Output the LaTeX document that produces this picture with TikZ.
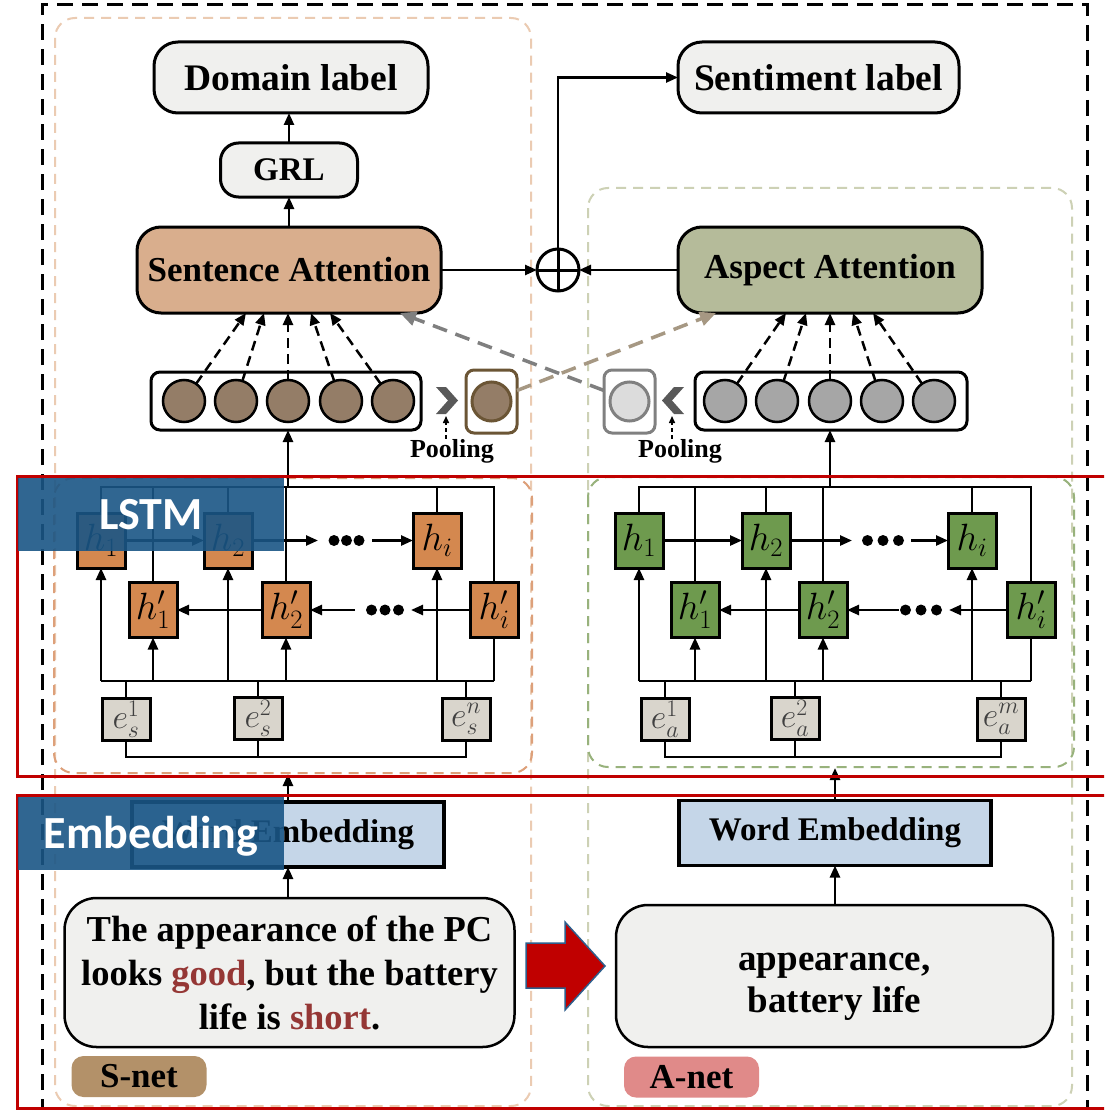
\RequirePackage{fix-cm}
\documentclass[tikz,border=0pt]{standalone}
\usepackage{fontspec}
\setmainfont{Liberation Serif}
\newfontfamily\calib{Carlito}
\usetikzlibrary{arrows.meta,calc}
\definecolor{boxgray}{HTML}{F0F0EE}
\definecolor{satan}{HTML}{D9AE8D}
\definecolor{aaolive}{HTML}{B5BB9A}
\definecolor{horange}{HTML}{D4884F}
\definecolor{hgreen}{HTML}{6E9A4E}
\definecolor{egray}{HTML}{D9D5CC}
\definecolor{wemb}{HTML}{C5D6E8}
\definecolor{cbrown}{HTML}{947D67}
\definecolor{bbrown}{HTML}{6B5535}
\definecolor{cgray}{HTML}{A6A6A6}
\definecolor{pgray}{HTML}{DCDCDC}
\definecolor{bgray}{HTML}{808080}
\definecolor{chev}{HTML}{595959}
\definecolor{redc}{HTML}{C00000}
\definecolor{lblue}{HTML}{1A5686}
\definecolor{snetc}{HTML}{B39169}
\definecolor{anetc}{HTML}{E08A89}
\definecolor{wordred}{HTML}{953735}
\definecolor{odash}{HTML}{EBCBB2}
\definecolor{odashb}{HTML}{DDA07A}
\definecolor{gdash}{HTML}{CDD1B5}
\definecolor{gdashb}{HTML}{98B27C}
\definecolor{grayarr}{HTML}{7F7F7F}
\definecolor{brownarr}{HTML}{A69883}
\definecolor{arrowblue}{HTML}{2E5E8C}
\begin{document}
\begin{tikzpicture}[x=1pt,y=-1pt,
  every node/.style={inner sep=0pt,outer sep=0pt},
  ln/.style={line width=2.5pt},
  arr/.style={ln,-{Triangle[length=12pt,width=10pt]}},
  fan/.style={line width=2.5pt,dash pattern=on 10pt off 6pt,-{Triangle[length=12pt,width=10pt]}},
  bigdash/.style={line width=3.5pt,dash pattern=on 15pt off 9pt,-{Triangle[length=16pt,width=14pt]}},
  tb/.style={font=\fontsize{35}{44}\selectfont\bfseries,align=center},
  tbl/.style={font=\fontsize{37.5}{44}\selectfont\bfseries},
  rbox/.style={draw,line width=3pt,rounded corners=24pt,fill=boxgray,tb},
  hb/.style={draw,line width=3pt,minimum width=48pt,minimum height=55pt,font=\fontsize{38}{38}\selectfont},
  eb/.style={draw,line width=3pt,fill=egray,minimum width=48pt,minimum height=42pt,font=\fontsize{34}{34}\selectfont,text=black!75},
  cir/.style={circle,draw,line width=2.5pt,minimum size=42pt},
  rowbox/.style={draw,line width=3pt,rounded corners=9pt},
  psq/.style={draw,line width=3pt,rounded corners=8pt,minimum width=51pt,minimum height=63pt},
  obox/.style={line width=2pt,dash pattern=on 10pt off 7pt,rounded corners=20pt},
  redbox/.style={draw=redc,line width=3pt},
  lab/.style={fill=lblue,fill opacity=0.9,text opacity=1,text=white,minimum width=266pt,minimum height=73pt,anchor=north west,font=\fontsize{46}{46}\calib\bfseries,text height=29.6pt,text depth=0pt},
  tag/.style={rounded corners=12pt,minimum width=135pt,minimum height=41pt,font=\fontsize{35}{35}\selectfont\bfseries},
  wb/.style={draw,line width=3.5pt,fill=wemb,minimum width=312pt,minimum height=65pt,font=\fontsize{33}{33}\selectfont\bfseries},
  pool/.style={font=\fontsize{26}{26}\selectfont\bfseries},
  parr/.style={line width=1.5pt,dash pattern=on 4pt off 3pt,-{Triangle[length=7pt,width=6pt]}},
]
\clip (0,0) rectangle (1104,1110);
\fill[white] (0,0) rectangle (1104,1110);
% dashed frames
\draw[line width=3pt,dash pattern=on 16pt off 9pt] (42,1140) -- (42,5) -- (1087,5) -- (1087,1140);
\draw[obox,draw=odash] (55,18) rectangle (531,1106);
\draw[obox,draw=gdash] (588,188) rectangle (1072,1106);
\draw[obox,draw=odashb] (54,478) rectangle (532,773);
\draw[obox,draw=gdashb] (588,477) rectangle (1074,767);

% top part
\node[rbox,tbl,minimum width=274pt,minimum height=71pt] (dl) at (291,77.5) {Domain label};
\node[rbox,font=\fontsize{33}{33}\selectfont\bfseries,rounded corners=18pt,minimum width=137pt,minimum height=54pt] (grl) at (289,170) {GRL};
\node[rbox,fill=satan,minimum width=304pt,minimum height=86pt] (sa) at (289,270) {Sentence Attention};
\node[rbox,tbl,minimum width=281pt,minimum height=71pt] (sl) at (818.5,77.5) {Sentiment label};
\node[rbox,fill=aaolive,minimum width=304pt,minimum height=86pt] (aa) at (830,270) {Aspect Attention};
\node[circle,draw,line width=3pt,minimum size=42pt,fill=white] (plus) at (558,270) {};
\draw[line width=3pt] (plus.north) -- (plus.south) (plus.west) -- (plus.east);
\draw[arr] (sa.north) -- (grl.south);
\draw[arr] (grl.north) -- (grl.north |- dl.south);
\draw[arr] (sa.east) -- (plus.west);
\draw[arr] (aa.west) -- (plus.east);
\draw[arr] (plus.north) |- (sl.west);

% circle rows
\node[rowbox,minimum width=270pt,minimum height=58pt] (rowL) at (286,401) {};
\foreach \i/\x in {1/184,2/236,3/288,4/341,5/393} \node[cir,fill=cbrown] (cl\i) at (\x,401) {};
\node[rowbox,minimum width=272pt,minimum height=58pt] (rowR) at (831,401) {};
\foreach \i/\x in {1/725,2/777,3/830,4/882,5/934} \node[cir,fill=cgray] (cr\i) at (\x,401) {};
\node[psq,draw=bbrown] (bsq) at (491.5,401.5) {};
\node[cir,draw=bbrown,fill=cbrown,minimum size=39pt,line width=3pt] (bc) at (bsq) {};
\node[psq,draw=bgray] (gsq) at (629.5,401.5) {};
\node[cir,draw=bgray,fill=pgray,minimum size=39pt,line width=3pt] (gc) at (gsq) {};
\foreach \i/\d in {1/-43,2/-25,3/-1,4/22,5/41} \draw[fan] (cl\i) -- ([xshift=\d pt]sa.south);
\foreach \i/\d in {1/-44,2/-24,3/0,4/23,5/43} \draw[fan] (cr\i) -- ([xshift=\d pt]aa.south);

% pooling
\fill[chev] (436,387) -- (446,387) -- (458,400.5) -- (446,414) -- (436,414) -- (448,400.5) -- cycle;
\fill[chev] (684,387) -- (674,387) -- (662,400.5) -- (674,414) -- (684,414) -- (672,400.5) -- cycle;
\coordinate (chL) at (446,416);
\coordinate (chR) at (672,416);
\node[pool,anchor=base] (plL) at (452,457) {Pooling};
\node[pool,anchor=base] (plR) at (680,457) {Pooling};
\draw[parr] (plL.north -| chL) -- (chL);
\draw[parr] (plR.north -| chR) -- (chR);

\draw[bigdash,grayarr] ([yshift=11pt]gsq.west) -- ([xshift=111pt]sa.south);
\draw[bigdash,brownarr] ([yshift=11pt]bsq.east) -- ([xshift=-114pt]aa.south);

% ---------- LSTM left ----------
\node[hb,fill=horange] (h1L) at (101,540.5) {$h_1$};
\node[hb,fill=horange] (h2L) at (228,540.5) {$h_2$};
\node[hb,fill=horange] (hiL) at (437,540.5) {$h_i$};
\node[hb,fill=horange] (hp1L) at (153,610) {$h'_1$};
\node[hb,fill=horange] (hp2L) at (286,610) {$h'_2$};
\node[hb,fill=horange] (hpiL) at (494,610) {$h'_i$};
\node[eb] (e1L) at (126,719) {$e_s^1$};
\node[eb] (e2L) at (258,718) {$e_s^2$};
\node[eb] (enL) at (466,719) {$e_s^n$};
\coordinate (tL) at (0,487);
\coordinate (bL) at (0,681);
\coordinate (dL) at (0,757);
\draw[ln] (h1L.north) |- (tL -| hpiL.north) -- (hpiL.north);
\foreach \n in {hp1L,h2L,hp2L,hiL} \draw[ln] (\n.north) -- (\n.north |- tL);
\draw[ln] (h1L.south |- bL) -- (hpiL.south |- bL);
\foreach \n in {h1L,hp1L,h2L,hp2L,hiL} \draw[arr] (\n.south |- bL) -- (\n.south);
\draw[ln] (hpiL.south |- bL) -- (hpiL.south);
\foreach \n in {e1L,e2L,enL} \draw[ln] (\n.north) -- (\n.north |- bL);
\draw[ln] (e1L.south) |- (dL -| enL.south) -- (enL.south);
\draw[ln] (e2L.south) -- (e2L.south |- dL);
\coordinate (d1L) at (318,540.5);
\coordinate (d2L) at (372,540.5);
\coordinate (b1L) at (411,610);
\coordinate (b2L) at (355,610);
\draw[arr] (h1L.east) -- (h2L.west);
\draw[arr] (h2L.east) -- (d1L);
\draw[arr] (d2L) -- (hiL.west);
\draw[arr] (hpiL.west) -- (b1L);
\draw[arr] (b2L) -- (hp2L.east);
\draw[arr] (hp2L.west) -- (hp1L.east);
\foreach \x in {334,346.5,359} \fill (\x,540.5) circle (5.5pt);
\foreach \x in {371.5,385,398.5} \fill (\x,610) circle (5.5pt);
\coordinate (oL) at (288,487);
\draw[arr] (oL) -- (oL |- rowL.south);

% ---------- LSTM right ----------
\node[hb,fill=hgreen] (h1R) at (639,540.5) {$h_1$};
\node[hb,fill=hgreen] (h2R) at (766,540.5) {$h_2$};
\node[hb,fill=hgreen] (hiR) at (972,540.5) {$h_i$};
\node[hb,fill=hgreen] (hp1R) at (695,610) {$h'_1$};
\node[hb,fill=hgreen] (hp2R) at (823,610) {$h'_2$};
\node[hb,fill=hgreen] (hpiR) at (1031,610) {$h'_i$};
\node[eb] (e1R) at (665,719) {$e_a^1$};
\node[eb] (e2R) at (795,718) {$e_a^2$};
\node[eb] (emR) at (1001,719) {$e_a^m$};
\coordinate (tR) at (0,487);
\coordinate (bR) at (0,681);
\coordinate (dR) at (0,757);
\draw[ln] (h1R.north) |- (tR -| hpiR.north) -- (hpiR.north);
\foreach \n in {hp1R,h2R,hp2R,hiR} \draw[ln] (\n.north) -- (\n.north |- tR);
\draw[ln] (h1R.south |- bR) -- (hpiR.south |- bR);
\foreach \n in {h1R,hp1R,h2R,hp2R,hiR} \draw[arr] (\n.south |- bR) -- (\n.south);
\draw[ln] (hpiR.south |- bR) -- (hpiR.south);
\foreach \n in {e1R,e2R,emR} \draw[ln] (\n.north) -- (\n.north |- bR);
\draw[ln] (e1R.south) |- (dR -| emR.south) -- (emR.south);
\draw[ln] (e2R.south) -- (e2R.south |- dR);
\coordinate (d1R) at (852,540.5);
\coordinate (d2R) at (911,540.5);
\coordinate (b1R) at (949,610);
\coordinate (b2R) at (899,610);
\draw[arr] (h1R.east) -- (h2R.west);
\draw[arr] (h2R.east) -- (d1R);
\draw[arr] (d2R) -- (hiR.west);
\draw[arr] (hpiR.west) -- (b1R);
\draw[arr] (b2R) -- (hp2R.east);
\draw[arr] (hp2R.west) -- (hp1R.east);
\foreach \x in {867.5,883,898.5} \fill (\x,540.5) circle (5.5pt);
\foreach \x in {905.5,921,936.5} \fill (\x,610) circle (5.5pt);
\coordinate (oR) at (830,487);
\draw[arr] (oR) -- (oR |- rowR.south);

% ---------- embedding + input ----------
\node[wb] (weL) at (288,834.5) {Word Embedding};
\node[wb] (weR) at (835,833) {Word Embedding};
\coordinate (lsL) at (288,774);
\coordinate (lsR) at (835,768);
\draw[arr] (weL.north) -- (lsL);
\draw[arr] (weR.north) -- (lsR);
\node[rbox,font=\fontsize{36.5}{44}\selectfont\bfseries,rounded corners=32pt,line width=2.5pt,minimum width=450pt,minimum height=149pt] (sb) at (289.5,972.5) {The appearance of the PC\\looks \textcolor{wordred}{good}, but the battery\\life is \textcolor{wordred}{short}.};
\node[rbox,rounded corners=32pt,line width=2.5pt,minimum width=437pt,minimum height=142pt] (ab) at (834.5,976) {};
\node[font=\fontsize{37}{42}\selectfont\bfseries,align=center] (abt) at (834.5,987) {appearance,\\battery life};
\draw[arr] (weL.south |- sb.north) -- (weL.south);
\draw[arr] (weR.south |- ab.north) -- (weR.south);
\fill[redc,draw=arrowblue,line width=1.5pt] (526,943) -- (565,943) -- (565,922) -- (605,966) -- (565,1010) -- (565,988) -- (526,988) -- cycle;
\node[tag,fill=snetc] (snet) at (139,1076.5) {S-net};
\node[tag,fill=anetc] (anet) at (691.5,1077) {A-net};

% ---------- overlay ----------
\draw[redbox] (17,476) rectangle (1130,776);
\draw[redbox] (17,795) rectangle (1130,1108);
\node[lab] (lstm) at (18,478) {LSTM};
\node[lab] (emb) at (18,797) {Embedding};
\end{tikzpicture}
\end{document}
